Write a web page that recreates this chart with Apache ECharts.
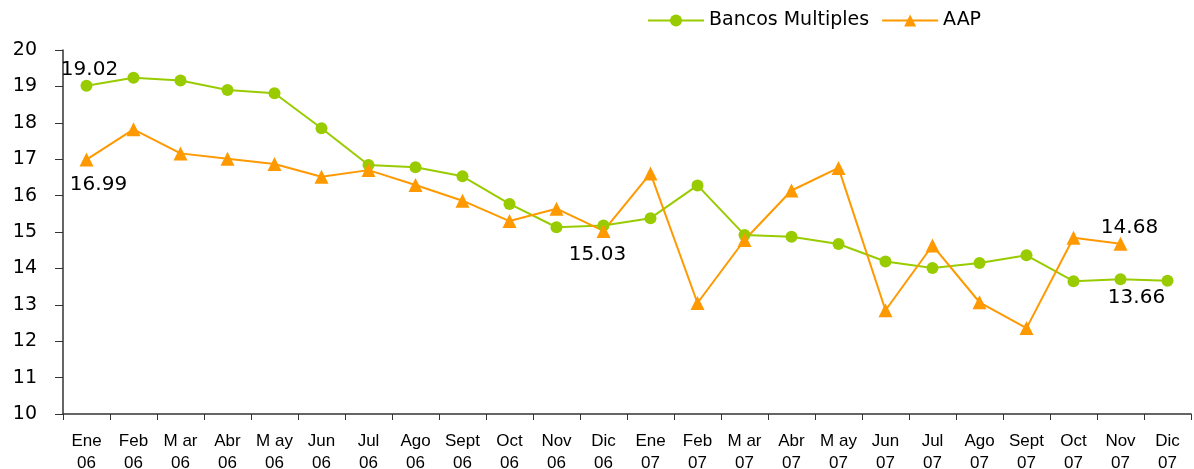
<!DOCTYPE html>
<html>
<head>
<meta charset="utf-8">
<script src="https://cdn.jsdelivr.net/npm/echarts@6/dist/echarts.min.js"></script>
<style>
  html, body { margin: 0; padding: 0; background: #fff; }
  #chart { width: 1194px; height: 469px; }
</style>
</head>
<body>
<div id="chart"></div>
<script>
// meses
var categories = ['Ene\n06','Feb\n06','M ar\n06','Abr\n06','M ay\n06','Jun\n06','Jul\n06','Ago\n06','Sept\n06','Oct\n06','Nov\n06','Dic\n06',
                  'Ene\n07','Feb\n07','M ar\n07','Abr\n07','M ay\n07','Jun\n07','Jul\n07','Ago\n07','Sept\n07','Oct\n07','Nov\n07','Dic\n07'];

// Bancos Multiples
var bancos = [19.02, 19.24, 19.16, 18.90, 18.81, 17.85, 16.84, 16.78, 16.53, 15.77, 15.13, 15.18,
              15.38, 16.28, 14.92, 14.87, 14.67, 14.19, 14.01, 14.15, 14.36, 13.65, 13.70, 13.66];

// AAP (sin dato en Dic 07)
var aap = [16.99, 17.82, 17.16, 17.01, 16.87, 16.52, 16.70, 16.29, 15.86, 15.30, 15.64, 15.03,
           16.61, 13.05, 14.78, 16.14, 16.76, 12.85, 14.63, 13.07, 12.36, 14.84, 14.68, null];

var yTicks = [10, 11, 12, 13, 14, 15, 16, 17, 18, 19, 20];

var green = '#99CC00';
var orange = '#FF9900';
var labelFont = { color: '#000', fontFamily: 'DejaVu Sans', fontSize: 20 };

// etiquetas de valores en algunos puntos
function withLabels(values, labels) {
    return values.map(function (v, i) {
        if (labels[i]) {
            return { value: v, label: Object.assign({ show: true }, labelFont, labels[i]) };
        }
        return v;
    });
}

var bancosData = withLabels(bancos, {
    0: { position: 'top', offset: [3, 5] },
    23: { position: 'bottom', offset: [-31, -4] }
});
var aapData = withLabels(aap, {
    0: { position: 'bottom', offset: [12, 3] },
    11: { position: 'bottom', offset: [-6, 2] },
    22: { position: 'top', offset: [9, 6] }
});

var chart = echarts.init(document.getElementById('chart'));

var option = {
    animation: false,
    backgroundColor: '#fff',
    legend: {
        left: 642,
        top: 6,
        itemWidth: 56,
        itemHeight: 15,
        itemGap: 12,
        textStyle: { fontFamily: 'DejaVu Sans', fontSize: 19, color: '#000' },
        data: ['Bancos Multiples', 'AAP']
    },
    grid: {
        left: 63,
        right: 3,
        top: 50,
        bottom: 55,
        containLabel: false,
        outerBoundsMode: 'none'
    },
    xAxis: {
        type: 'category',
        boundaryGap: true,
        data: categories,
        axisLine: { lineStyle: { color: '#333', width: 1.5 } },
        axisTick: { show: true, length: 6, alignWithLabel: false, lineStyle: { color: '#333' } },
        axisLabel: {
            interval: 0,
            margin: 16,
            color: '#000',
            fontFamily: 'Liberation Sans',
            fontSize: 17,
            lineHeight: 22
        }
    },
    yAxis: {
        type: 'value',
        min: yTicks[0],
        max: yTicks[yTicks.length - 1],
        interval: 1,
        splitLine: { show: false },
        axisLine: { show: true, lineStyle: { color: '#333', width: 1.5 } },
        axisTick: { show: true, length: 8, lineStyle: { color: '#333' } },
        axisLabel: {
            margin: 26,
            color: '#000',
            fontFamily: 'DejaVu Sans',
            fontSize: 19
        }
    },
    series: [
        {
            name: 'Bancos Multiples',
            type: 'line',
            data: bancosData,
            symbol: 'circle',
            symbolSize: 12,
            color: green,
            lineStyle: { color: green, width: 2 },
            itemStyle: { color: green }
        },
        {
            name: 'AAP',
            type: 'line',
            data: aapData,
            symbol: 'triangle',
            symbolSize: 14,
            color: orange,
            lineStyle: { color: orange, width: 2 },
            itemStyle: { color: orange }
        }
    ]
};

chart.setOption(option);
</script>
</body>
</html>
